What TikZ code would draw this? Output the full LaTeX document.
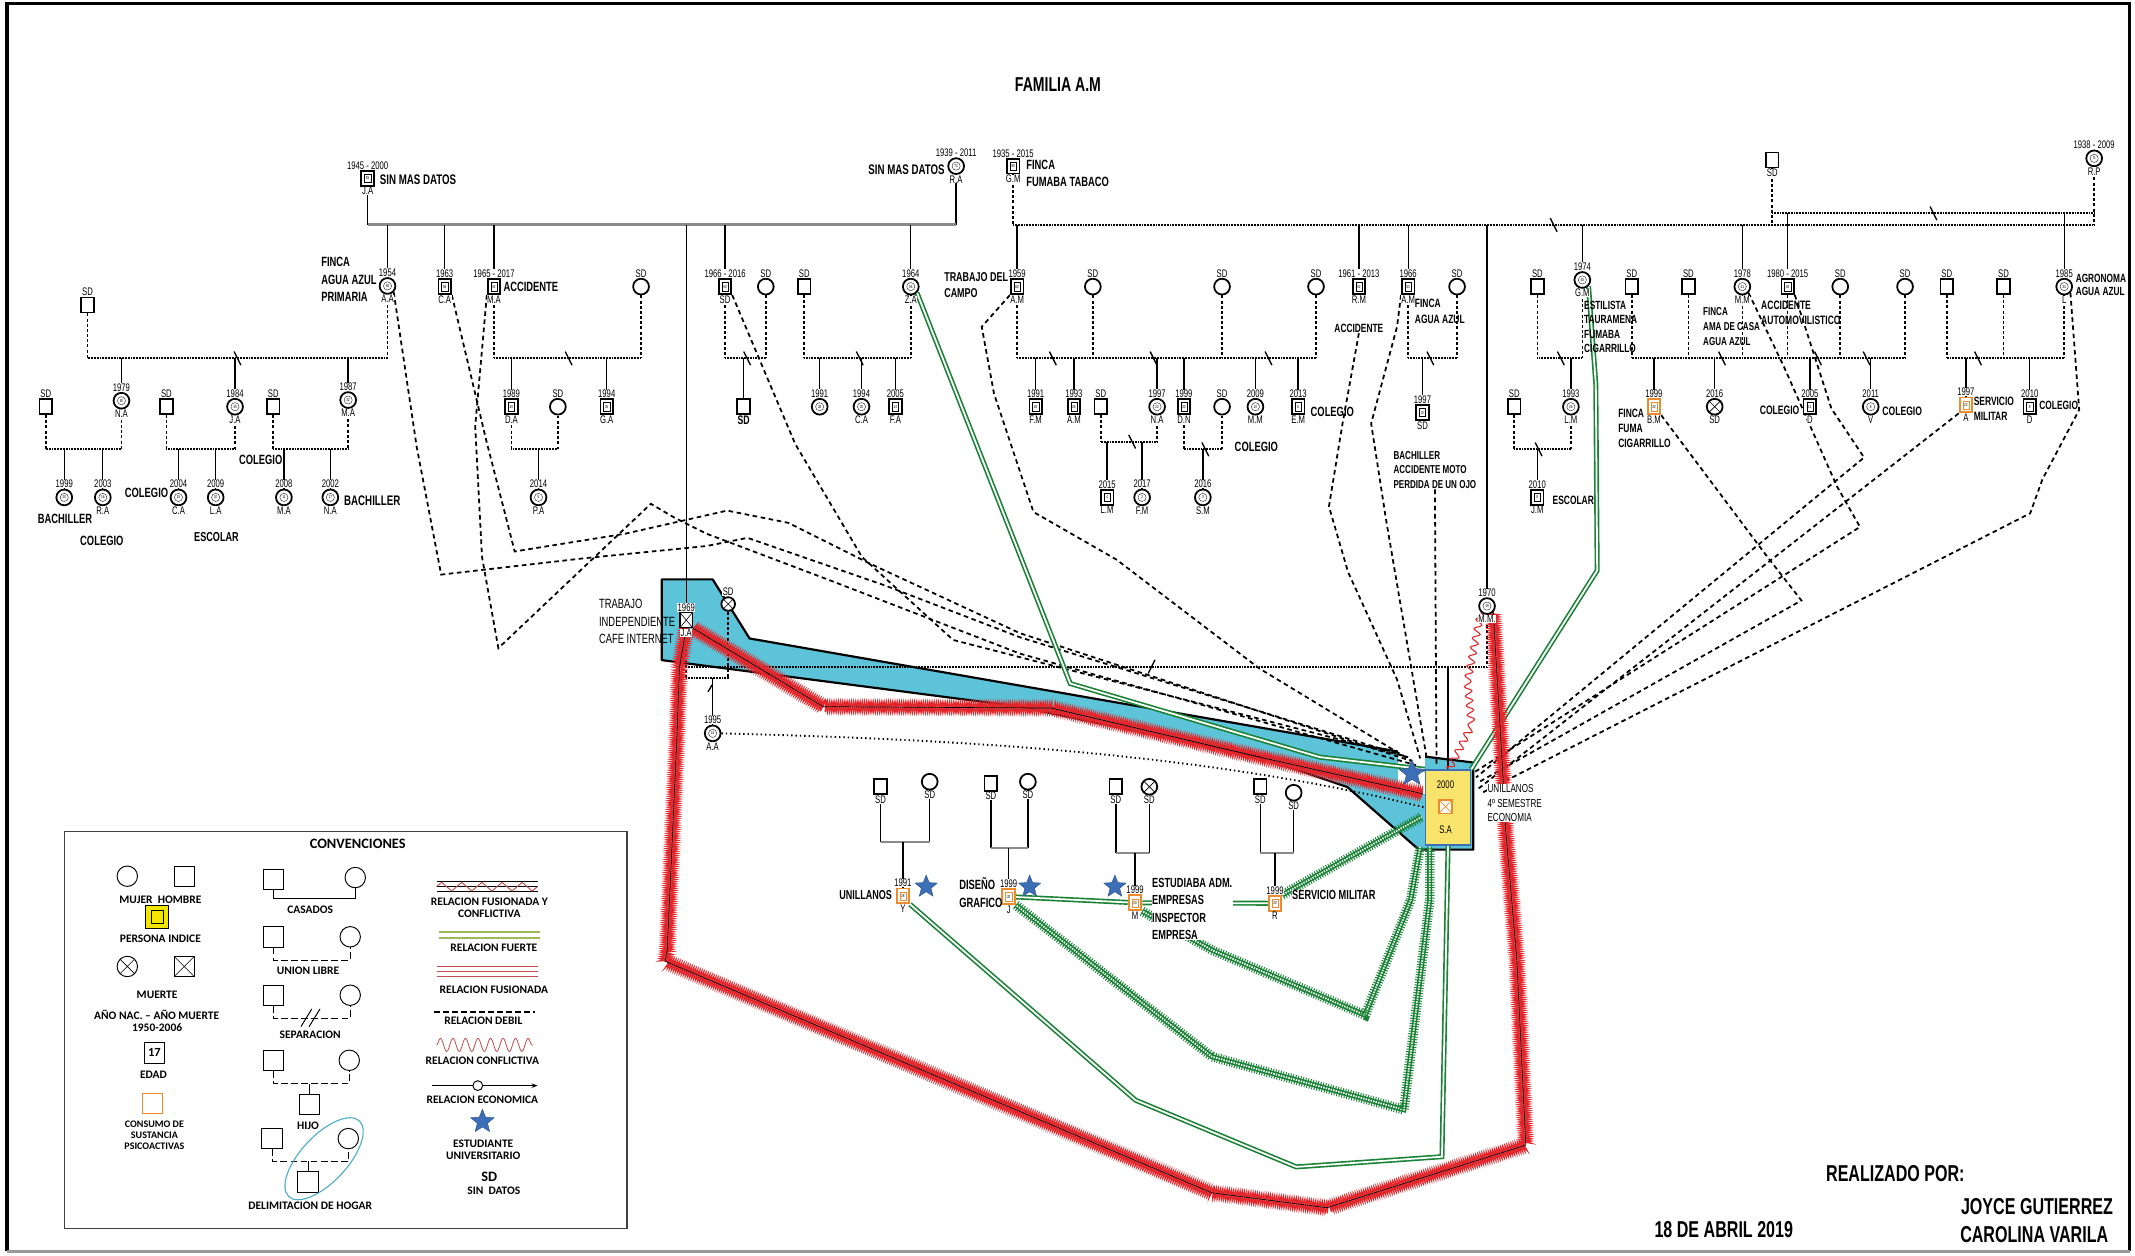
\documentclass[tikz,border=0pt]{standalone}
\usepackage{fontspec}
\setmainfont{Liberation Sans}[FakeStretch=0.7]
\newfontfamily\legf{Carlito}
\usetikzlibrary{shapes.geometric,decorations.pathmorphing,arrows.meta}
\pgfdeclarelayer{bg}
\pgfdeclarelayer{lines}
\pgfsetlayers{bg,lines,main}
\definecolor{grn}{HTML}{1A8236}
\definecolor{rd}{HTML}{E3262B}
\definecolor{hog}{HTML}{5CC3D8}
\definecolor{ylw}{HTML}{F8E46C}
\definecolor{org}{HTML}{EC8A2C}
\definecolor{stb}{HTML}{3C6FB6}
\definecolor{gry}{HTML}{8A8A8A}
\definecolor{lyel}{HTML}{F2E600}
\definecolor{olv}{HTML}{9BBB59}
\definecolor{drd}{HTML}{C0504D}
\definecolor{lteal}{HTML}{4BACC6}
\newcommand\fsz[2]{\fontsize{#1}{#2}\selectfont}
\newcommand\yrf{\fsz{11.5}{12}}
\newcommand\agf{\fsz{4.5}{5}}
\newcommand\lgf{\legf\bfseries\fsz{12}{13.2}}
\tikzset{
 per/.style={draw,line width=0.65mm,fill=white,font=\agf,inner sep=0pt,label distance=3.7mm},
 hb/.style={per,rectangle,minimum width=4.6mm,minimum height=5.5mm},
 hba/.style={hb,path picture={\draw[line width=0.12mm] ([shift={(-1.15mm,-1.5mm)}]path picture bounding box.center) rectangle ([shift={(1.15mm,1.5mm)}]path picture bounding box.center);}},
 hbo/.style={hba,draw=org,line width=0.7mm},
 mj/.style={per,circle,minimum size=5.8mm},
 mja/.style={mj,path picture={\draw[line width=0.12mm] (path picture bounding box.center) circle (1.5mm);}},
 xpp/.style={path picture={\draw[line width=0.22mm] (path picture bounding box.south west) -- (path picture bounding box.north east) (path picture bounding box.north west) -- (path picture bounding box.south east);}},
 xs/.style={hb,xpp},
 xc/.style={mj,xpp},
 every label/.style={font=\yrf,inner sep=0.4pt,fill=white},
 tx/.style={inner sep=0.5pt,align=left},
 kid/.style={line width=0.5mm},
 marr/.style={line width=1.1mm,draw=gry},
 uline/.style={line width=0.75mm,dash pattern=on 0.35mm off 0.22mm},
 stub/.style={line width=0.6mm,dash pattern=on 1.1mm off 0.8mm},
 sepl/.style={line width=0.5mm},
 weak/.style={line width=0.65mm,dash pattern=on 1.7mm off 1.3mm},
 dotrel/.style={line width=0.7mm,dash pattern=on 0.5mm off 1.1mm},
 strong/.style={draw=grn,line width=0.6mm,double=white,double distance=0.65mm},
 gtick/.style={draw=grn,line width=3.6mm,dash pattern=on 0.35mm off 0.6mm},
 rz/.style={draw=rd,line width=0.5mm,decorate,decoration={zigzag,segment length=1.6mm,amplitude=2mm}},
 rzm/.style={draw=rd,line width=0.5mm,decorate,decoration={zigzag,segment length=1.6mm,amplitude=2mm,mirror}},
 conf/.style={draw=rd,line width=0.4mm,decorate,decoration={snake,segment length=3.5mm,amplitude=1.3mm}},
 glin/.style={line width=0.7mm,draw=gry},
 sstar/.style={star,star points=5,star point ratio=2.3,fill=stb,draw=stb!80!black,line width=0.2mm,inner sep=0pt,minimum size=8.5mm},
 lsq/.style={draw,line width=0.35mm,minimum size=7.5mm,inner sep=0pt},
 lci/.style={draw,circle,line width=0.35mm,minimum size=7.5mm,inner sep=0pt},
 lt/.style={font=\lgf,inner sep=0.5pt,align=center},
}
\newcommand\cpl[3]{\draw[uline] (#1 |- #3) -- (#2 |- #3);}
\newcommand\stb[2]{\draw[stub] (#1.south) -- (#1 |- #2);}
\newcommand\kd[2]{\draw[kid] (#1 |- #2) -- (#1.north);}
\newcommand\sepm[2]{\draw[sepl] ({#1-2.5},{#2-5}) -- ({#1+2.5},{#2+5});}
\newcommand\hatchg[1]{\draw[strong] #1; \draw[gtick] #1;}
\newcommand\redb[1]{\draw[rz] #1; \draw[rzm] #1; \draw[line width=0.25mm] #1;}
\begin{document}
\begin{tikzpicture}[x=0.5mm,y=-0.5mm]
\useasboundingbox (0,0) rectangle (1568,922);
% ---------- title
\node[font=\bfseries\fsz{21}{21}] (title) at (777,62) {FAMILIA A.M};
% ---------- generation 1
\node[hba,label=above:1945 - 2000,label=below:J.A] (ja) at (270,131) {55};
\node[tx,anchor=west,font=\bfseries\fsz{14.5}{15}] (t01) at (278.5,132) {SIN MAS DATOS};
\node[mja,label=above:1939 - 2011,label=below:R.A] (ra) at (702.2,122) {72};
\node[tx,anchor=east,font=\bfseries\fsz{14.5}{15}] (t02) at (694.3,124.4) {SIN MAS DATOS};
\node[hba,label=above:1935 - 2015,label=below:G.M] (gm) at (744.1,122) {80};
\node[tx,anchor=west,font=\bfseries\fsz{14}{17.3}] (t03) at (753.3,127.3) {FINCA\\FUMABA TABACO};
\node[hb,label=below:SD] (sdt) at (1301.6,117.5) {};
\node[mja,label=above:1938 - 2009,label=below:R.P] (rp) at (1538,116.3) {71};
% ---------- generation 2
\node[hb,label=above:SD] (sdaa) at (64.3,224) {};
\node[mja,label=above:1954,label=below:A.A] (aa) at (284.6,210) {65};
\node[tx,anchor=west,font=\bfseries\fsz{14}{18.4}] (t04) at (235.5,205.3) {FINCA\\AGUA AZUL\\PRIMARIA};
\node[hba,label=above:1963,label=below:C.A] (ca) at (326.6,210.5) {56};
\node[hba,label=above:1965 - 2017,label=below:M.A] (ma) at (362.8,210.5) {52};
\node[tx,anchor=west,font=\bfseries\fsz{14}{15}] (t05) at (369.3,210.5) {ACCIDENTE};
\node[mj,label=above:SD] (sdma) at (470.8,210.5) {};
\node[hba,label=above:1966 - 2016,label=below:SD] (d66) at (532.5,210.5) {50};
\node[mj,label=above:SD] (sd66) at (562.4,210.5) {};
\node[hb,label=above:SD] (sdza) at (590.7,210.5) {};
\node[mja,label=above:1964,label=below:Z.A] (za) at (668.9,210.5) {55};
\node[hba,label=above:1959,label=below:A.M] (am59) at (747,210.5) {60};
\node[tx,anchor=west,font=\bfseries\fsz{13.4}{17.3}] (t06) at (693,209.3) {TRABAJO DEL\\CAMPO};
\node[mj,label=above:SD] (sdc1) at (802.6,210.5) {};
\node[mj,label=above:SD] (sdc2) at (897.5,210.5) {};
\node[mj,label=above:SD] (sdc3) at (966.5,210.5) {};
\node[hba,label=above:1961 - 2013,label=below:R.M] (rm) at (998,210.5) {52};
\node[tx,font=\bfseries\fsz{12.5}{13}] (t07) at (998,241.1) {ACCIDENTE};
\node[hba,label=above:1966,label=below:A.M] (am66) at (1034.2,210.5) {53};
\node[tx,anchor=west,font=\bfseries\fsz{12.6}{16.6}] (t08) at (1038.7,228.6) {FINCA\\AGUA AZUL};
\node[mj,label=above:SD] (sdc4) at (1070.1,210.5) {};
\node[hb,label=above:SD] (sdg1) at (1129.1,210.5) {};
\node[mja,label=above:1974,label=below:G.M] (gm74) at (1162.1,205.6) {45};
\node[tx,anchor=west,font=\bfseries\fsz{12.4}{15}] (t09) at (1163,240) {ESTILISTA\\TAURAMENA\\FUMABA\\CIGARRILLO};
\node[hb,label=above:SD] (sdg2) at (1198.4,210.5) {};
\node[hb,label=above:SD] (sdg3) at (1240,210.5) {};
\node[mja,label=above:1978,label=below:M.M] (mm78) at (1279.6,210.5) {41};
\node[tx,anchor=west,font=\bfseries\fsz{12}{15.6}] (t10) at (1250.4,239.9) {FINCA\\AMA DE CASA\\AGUA AZUL};
\node[hba,label=above:1980 - 2015] (d80) at (1312.9,210.5) {35};
\node[tx,anchor=west,font=\bfseries\fsz{12.7}{15.6}] (t11) at (1293,229.5) {ACCIDENTE\\AUTOMOVILISTICO};
\node[mj,label=above:SD] (sdg4) at (1351.5,210.5) {};
\node[mj,label=above:SD] (sdg5) at (1399.1,210.5) {};
\node[hb,label=above:SD] (sdg6) at (1429.8,210.5) {};
\node[hb,label=above:SD] (sdg7) at (1471.4,210.5) {};
\node[mja,label=above:1985,label=below:L] (l85) at (1516,210.5) {34};
\node[tx,anchor=west,font=\bfseries\fsz{12.4}{14}] (t12) at (1524,209.3) {AGRONOMA\\AGUA AZUL};
% ---------- generation 3
\node[hb,label=above:SD] (sdna) at (33.6,298.7) {};
\node[mja,label=above:1979,label=below:N.A] (na79) at (89.2,294.3) {40};
\node[hb,label=above:SD] (sdja) at (122.2,298.7) {};
\node[mja,label=above:1984,label=below:J.A] (ja84) at (172.6,298.7) {35};
\node[hb,label=above:SD] (sdm) at (200.7,298.7) {};
\node[mja,label=above:1987,label=below:M.A] (ma87) at (255.7,293.8) {32};
\node[hba,label=above:1989,label=below:D.A] (da) at (375.6,298.7) {30};
\node[mj,label=above:SD] (sdda) at (409.7,298.7) {};
\node[hba,label=above:1994,label=below:G.A] (ga) at (445.6,298.7) {25};
\node[hb,label={[font=\bfseries\fsz{13}{13}]below:SD}] (sd66c) at (546.1,298.7) {};
\node[mja,label=above:1991] (c91) at (602,298.7) {28};
\node[mja,label=above:1994,label=below:C.A] (ca94) at (632.7,298.7) {25};
\node[hba,label=above:2005,label=below:F.A] (fa) at (657.6,298.7) {14};
\node[hba,label=above:1991,label=below:F.M] (fm91) at (760.6,298.7) {28};
\node[hba,label=above:1993,label=below:A.M] (am93) at (788.7,298.7) {26};
\node[hb,label=above:SD] (sdlm) at (808.4,298.7) {};
\node[mja,label=above:1997,label=below:N.A] (na97) at (849.8,298.7) {22};
\node[hba,label=above:1999,label=below:D.N] (dn) at (869.5,298.7) {20};
\node[mj,label=above:SD] (sddn) at (897.5,298.7) {};
\node[mja,label=above:2009,label=below:M.M] (mm09) at (922,298.7) {10};
\node[hba,label=above:2013,label=below:E.M] (em) at (953.4,298.7) {6};
\node[tx,anchor=west,font=\bfseries\fsz{14}{15}] (t13) at (962.1,302.3) {COLEGIO};
\node[tx,font=\bfseries\fsz{14}{15}] (t14) at (922.7,328.5) {COLEGIO};
\node[hba,label=above:1997,label=below:SD] (sd97) at (1044.7,303) {22};
\node[tx,anchor=west,font=\bfseries\fsz{12}{15.3}] (t15) at (1023,345.2) {BACHILLER\\ACCIDENTE MOTO\\PERDIDA DE UN OJO};
\node[hb,label=above:SD] (sdjm) at (1112.1,298.7) {};
\node[mja,label=above:1993,label=below:L.M] (lm93) at (1153.7,298.7) {26};
\node[hbo,label=above:1999,label=below:B.M] (bm) at (1214.7,298.7) {20};
\node[tx,anchor=west,font=\bfseries\fsz{12.6}{15.6}] (t16) at (1188,314.5) {FINCA\\FUMA\\CIGARRILLO};
\node[xc,label=above:2016,label=below:SD] (sd16) at (1259.3,298.7) {};
\node[hba,label=above:2005,label=below:D] (d05) at (1329.2,298.7) {14};
\node[tx,anchor=east,font=\bfseries\fsz{12.8}{14}] (t17) at (1322,301.6) {COLEGIO};
\node[mja,label=above:2011,label=below:V] (v11) at (1373.9,298.7) {8};
\node[tx,anchor=west,font=\bfseries\fsz{12.8}{14}] (t18) at (1382,302.3) {COLEGIO};
\node[hbo,label=above:1997,label=below:A] (a97) at (1443.8,297.4) {22};
\node[tx,anchor=west,font=\bfseries\fsz{12.6}{14.8}] (t19) at (1449.1,300.2) {SERVICIO\\MILITAR};
\node[hba,label=above:2010,label=below:D] (d10) at (1490.7,298.7) {9};
\node[tx,anchor=west,font=\bfseries\fsz{12.5}{14}] (t20) at (1497.3,297.4) {COLEGIO};
% ---------- generation 4
\node[mja,label=above:1999] (k99) at (47.2,365.3) {20};
\node[mja,label=above:2003,label=below:R.A] (ra03) at (75.5,365.3) {16};
\node[mja,label=above:2004,label=below:C.A] (ca04) at (131.1,365.3) {15};
\node[mja,label=above:2009,label=below:L.A] (la09) at (158.4,365.3) {10};
\node[mja,label=above:2008,label=below:M.A] (ma08) at (208.5,365.3) {11};
\node[mja,label=above:2002,label=below:N.A] (na02) at (242.6,365.3) {17};
\node[mja,label=above:2014,label=below:P.A] (pa) at (395.5,365.3) {5};
\node[hba,label=above:2015,label=below:L.M] (lm15) at (813.1,365.3) {4};
\node[mja,label=above:2017,label=below:F.M] (fm17) at (838.8,365.3) {2};
\node[mja,label=above:2016,label=below:S.M] (sm16) at (883.4,365.3) {3};
\node[hba,label=above:2010,label=below:J.M] (jm) at (1129,365.3) {9};
\node[tx,anchor=west,font=\bfseries\fsz{12.6}{14}] (t21) at (1139.8,367.2) {ESCOLAR};
\node[tx,font=\bfseries\fsz{14}{15}] (t22) at (47.7,381.4) {BACHILLER};
\node[tx,font=\bfseries\fsz{14}{15}] (t23) at (74.8,397.1) {COLEGIO};
\node[tx,anchor=east,font=\bfseries\fsz{14}{15}] (t24) at (124,361.8) {COLEGIO};
\node[tx,font=\bfseries\fsz{13.6}{15}] (t25) at (159,394.1) {ESCOLAR};
\node[tx,font=\bfseries\fsz{14}{15}] (t26) at (191.5,337.8) {COLEGIO};
\node[tx,anchor=west,font=\bfseries\fsz{14.5}{15}] (t27) at (252.3,367.7) {BACHILLER};
% ---------- index household
\node[xs,label=above:1969,label=below:J.A] (ja69) at (504,455.4) {};
\node[xc,minimum size=5mm,label=above:SD] (sd69) at (534.8,443.6) {};
\node[tx,anchor=west,font=\fsz{14}{17.9}] (t28) at (439.5,456.4) {TRABAJO\\INDEPENDIENTE\\CAFE INTERNET};
\node[mja,label=above:1995,label=below:A.A] (a95) at (523.4,538.6) {24};
\node[mja,label=above:1970,label=below:M.M.] (mm70) at (1092.1,445.1) {49};
\node[draw=stb,line width=0.5mm,fill=ylw,minimum width=16.5mm,minimum height=27.5mm,inner sep=0pt] (sa) at (1063.5,593) {};
\node[font=\yrf,inner sep=0pt] (sat1) at (1061.6,576.5) {2000};
\node[draw=org,line width=0.6mm,fill=white,minimum size=5mm,inner sep=0pt,xpp] (sax) at (1061.6,592.4) {};
\node[font=\yrf,inner sep=0pt] (sat2) at (1061.6,609.6) {S.A};
\node[sstar,minimum size=10mm] (st0) at (1037,568) {};
\node[tx,anchor=west,font=\fsz{12.1}{15.2},fill=white] (t29) at (1092,590) {UNILLANOS\\4º SEMESTRE\\ECONOMIA};
% ---------- other student families
\node[hb,label=below:SD] (sdy1) at (646.7,577.8) {};
\node[mj,label=below:SD] (sdy2) at (682.8,574.1) {};
\node[hbo,label=above:1991,label=below:Y] (yy) at (663.1,658) {28};
\node[sstar] (st1) at (680.2,651.2) {};
\node[tx,anchor=east,font=\bfseries\fsz{13.5}{14}] (t30) at (655.6,657.3) {UNILLANOS};
\node[hb,label=below:SD] (sdj1) at (727.7,575.3) {};
\node[mj,label=below:SD] (sdj2) at (754.9,574.1) {};
\node[hbo,label=above:1999,label=below:J] (jj) at (740.8,658.5) {20};
\node[sstar] (st2) at (756.2,651.2) {};
\node[tx,anchor=west,font=\bfseries\fsz{14}{19}] (t31) at (704,655.5) {DISEÑO\\GRAFICO};
\node[hb,label=below:SD] (sdm1) at (819.5,577.8) {};
\node[xc,label=below:SD] (sdm2) at (844.1,577.8) {};
\node[hbo,label=above:1999,label=below:M] (mm) at (833.6,663) {20};
\node[sstar] (st3) at (818.8,651.2) {};
\node[tx,anchor=west,font=\bfseries\fsz{13.8}{18},fill=white] (t32) at (845.7,667.6) {ESTUDIABA ADM.\\EMPRESAS\\INSPECTOR\\EMPRESA};
\node[hb,label=below:SD] (sdr1) at (925.6,577.8) {};
\node[mj,label=below:SD] (sdr2) at (950.1,582.2) {};
\node[hbo,label=above:1999,label=below:R] (rr) at (936.4,663.4) {20};
\node[tx,anchor=west,font=\bfseries\fsz{13.8}{14},fill=white] (t33) at (948.5,657.3) {SERVICIO MILITAR};
% ---------- footer
\node[font=\bfseries\fsz{24}{24}] (f1) at (1392,862) {REALIZADO POR:};
\node[font=\bfseries\fsz{24}{24}] (f2) at (1496,886) {JOYCE GUTIERREZ};
\node[font=\bfseries\fsz{24}{24}] (f3) at (1494,907) {CAROLINA VARILA};
\node[font=\bfseries\fsz{24}{24}] (f4) at (1266,903) {18 DE ABRIL 2019};
% ---------- levels
\coordinate (g1) at (0,165.2);
\coordinate (g1b) at (0,156.7);
\coordinate (g2) at (0,263.2);
\coordinate (g3) at (0,330);
\coordinate (g3b) at (0,324.4);
\coordinate (hh) at (0,489.6);
\coordinate (hs) at (0,498.2);
\coordinate (yl) at (0,618.1);
\coordinate (jl) at (0,623);
\coordinate (ml) at (0,626.7);
\coordinate (e1) at (1034,556);
\coordinate (e2) at (1037,559);
\coordinate (e3) at (1040,562);
\coordinate (e4) at (1043,557);
\coordinate (e5) at (1048,558);
\coordinate (e6) at (1055,561);
\coordinate (r1) at (1083,567);
\coordinate (r2) at (1084,571);
\coordinate (r3) at (1085,575);
\coordinate (r4) at (1086,579);
\coordinate (r5) at (1087,583);
% ---------- household background
\begin{pgfonlayer}{bg}
\draw[fill=hog,line width=0.8mm,line join=round] (486,425.5) -- (523.4,425.5) -- (550.5,468.9) -- (1027,552) -- (1047,555.7) -- (1082,560) -- (1082,624) -- (1042,624) -- (989.5,578) -- (925,556) -- (749,519) -- (486,484.8) -- cycle;
\fill[white] (1027,551) rectangle (1046.5,583);
\end{pgfonlayer}
% ---------- lines
\begin{pgfonlayer}{lines}
% gen 1
\draw[kid] (ja.south) -- (ja |- g1);
\draw[kid] (ra.south) -- (ra |- g1);
\draw[marr] (ja |- g1) -- (ra |- g1);
\stb{gm}{g1} \stb{rp}{g1} \stb{sdt}{g1}
\cpl{gm}{rp}{g1}
\cpl{sdt}{rp}{g1b}
\sepm{1141}{165.2} \sepm{1420}{156.7}
\kd{aa}{g1} \kd{ca}{g1} \kd{ma}{g1} \kd{ja69}{g1} \kd{d66}{g1} \kd{za}{g1}
\kd{am59}{g1} \kd{rm}{g1} \kd{am66}{g1} \kd{gm74}{g1} \kd{mm78}{g1} \kd{mm70}{g1}
\kd{d80}{g1b} \kd{l85}{g1b}
% gen 2 couples
\stb{sdaa}{g2} \stb{aa}{g2} \cpl{sdaa}{aa}{g2} \sepm{174.4}{263.2}
\kd{na79}{g2} \kd{ja84}{g2} \kd{ma87}{g2}
\stb{ma}{g2} \stb{sdma}{g2} \cpl{ma}{sdma}{g2} \sepm{417.6}{263.2}
\kd{da}{g2} \kd{ga}{g2}
\stb{d66}{g2} \stb{sd66}{g2} \cpl{d66}{sd66}{g2} \sepm{548.7}{263.2}
\kd{sd66c}{g2}
\stb{sdza}{g2} \stb{za}{g2} \cpl{sdza}{za}{g2} \sepm{631.4}{263.2}
\kd{c91}{g2} \kd{ca94}{g2} \kd{fa}{g2}
\stb{am59}{g2} \stb{sdc1}{g2} \stb{sdc2}{g2} \stb{sdc3}{g2} \cpl{am59}{sdc3}{g2}
\sepm{773.2}{263.2} \sepm{847.2}{263.2} \sepm{931.6}{263.2}
\kd{fm91}{g2} \kd{am93}{g2} \kd{na97}{g2} \kd{dn}{g2} \kd{mm09}{g2} \kd{em}{g2}
\stb{am66}{g2} \stb{sdc4}{g2} \cpl{am66}{sdc4}{g2} \sepm{1050.5}{263.2}
\kd{sd97}{g2}
\stb{sdg1}{g2} \stb{gm74}{g2} \cpl{sdg1}{gm74}{g2} \sepm{1146.3}{263.2}
\kd{lm93}{g2}
\stb{sdg2}{g2} \stb{sdg3}{g2} \stb{mm78}{g2} \stb{d80}{g2} \stb{sdg4}{g2} \stb{sdg5}{g2}
\cpl{sdg2}{sdg5}{g2} \sepm{1264.7}{263.2} \sepm{1335.2}{263.2} \sepm{1370.9}{263.2}
\kd{bm}{g2} \kd{sd16}{g2} \kd{d05}{g2} \kd{v11}{g2}
\stb{sdg6}{g2} \stb{sdg7}{g2} \stb{l85}{g2} \cpl{sdg6}{l85}{g2} \sepm{1452.7}{263.2}
\kd{a97}{g2} \kd{d10}{g2}
% gen 3 couples
\stb{sdna}{g3} \stb{na79}{g3} \cpl{sdna}{na79}{g3} \kd{k99}{g3} \kd{ra03}{g3}
\stb{sdja}{g3} \stb{ja84}{g3} \cpl{sdja}{ja84}{g3} \kd{ca04}{g3} \kd{la09}{g3}
\stb{sdm}{g3} \stb{ma87}{g3} \cpl{sdm}{ma87}{g3} \kd{ma08}{g3} \kd{na02}{g3}
\stb{da}{g3} \stb{sdda}{g3} \cpl{da}{sdda}{g3} \kd{pa}{g3}
\stb{sdlm}{g3b} \stb{na97}{g3b} \cpl{sdlm}{na97}{g3b} \sepm{831.5}{324.4} \kd{lm15}{g3b} \kd{fm17}{g3b}
\stb{dn}{g3} \stb{sddn}{g3} \cpl{dn}{sddn}{g3} \sepm{885.2}{330} \kd{sm16}{g3}
\stb{sdjm}{g3} \stb{lm93}{g3} \cpl{sdjm}{lm93}{g3} \sepm{1130}{330} \kd{jm}{g3}
% index household lines
\stb{ja69}{hs} \stb{mm70}{hh} \cpl{ja69}{mm70}{hh}
\draw[sepl] (843.3,494.6) -- (848.3,484.6);
\kd{sa}{hh}
\stb{sd69}{hs} \cpl{ja69}{sd69}{hs}
\kd{a95}{hs}
\draw[sepl] (520,508) -- (523,503);
% other families
\draw[kid] (sdy1.south) -- (sdy1 |- yl); \draw[kid] (sdy2.south) -- (sdy2 |- yl);
\draw[glin] (sdy1 |- yl) -- (sdy2 |- yl); \kd{yy}{yl}
\draw[kid] (sdj1.south) -- (sdj1 |- jl); \draw[kid] (sdj2.south) -- (sdj2 |- jl);
\draw[glin] (sdj1 |- jl) -- (sdj2 |- jl); \kd{jj}{jl}
\draw[kid] (sdm1.south) -- (sdm1 |- ml); \draw[kid] (sdm2.south) -- (sdm2 |- ml);
\draw[glin] (sdm1 |- ml) -- (sdm2 |- ml); \kd{mm}{ml}
\draw[kid] (sdr1.south) -- (sdr1 |- ml); \draw[kid] (sdr2.south) -- (sdr2 |- ml);
\draw[glin] (sdr1 |- ml) -- (sdr2 |- ml); \kd{rr}{ml}
% weak relations to the index person
\draw[weak] (d66.south east) -- (584,326) -- (633,409) -- (700,470) -- (e1);
\draw[weak] (am59.south west) -- (721,240) -- (730,289) -- (759,376) -- (820,411) -- (925,491) -- (e2);
\draw[weak] (t07.south) -- (986,311) -- (976,372) -- (990,420) -- (1026,499) -- (e4);
\draw[weak] (am66.south west) -- (1026,240) -- (1007,311) -- (1018,382) -- (e5);
\draw[weak] (t15.south) -- (e6);
\draw[weak] (aa.south east) -- (306,328) -- (324,422) -- (429,410) -- (519,401) -- (549,395) -- (650,430) -- (749,468) -- (e1);
\draw[weak] (ca.south east) -- (357,323) -- (378,405) -- (459,392) -- (534,375) -- (579,384) -- (639,414) -- (749,465) -- (e2);
\draw[weak] (ma.south west) -- (349,313) -- (354,409) -- (366,476) -- (478,370) -- (495,380) -- (519,392) -- (609,426) -- (749,480) -- (e3);
\draw[weak] (mm78.south east) -- (1310,269) -- (1349,357) -- (1366,387) -- (r1);
\draw[weak] (d80.south east) -- (1345,300) -- (1369,336) -- (r2);
\draw[weak] (bm.south east) -- (1298,409) -- (1323,441) -- (r3);
\draw[weak] (a97.south west) -- (r4);
\draw[weak] (l85.south east) -- (1527,301) -- (1500,352) -- (1491,377) -- (r5);
\draw[dotrel] (a95.east) .. controls (700,543) and (880,552) .. (sa.west);
% strong / fused relations
\draw[strong] (za.south east) -- (786,502) -- (969,556) -- (sa.north west);
\draw[strong] (gm74.south east) -- (1172,282) -- (1173,419) -- (sa.north east);
\draw[strong] (yy.south east) -- (834,808) -- (952,857) -- (1059,849.5) -- (sa.south);
\hatchg{(jj.south east) -- (890,776) -- (1031,815) -- (1050,661) -- (1050,622)}
\hatchg{(mm.south east) -- (890,697.7) -- (1002.6,745.5) -- (1036,661) -- (1043,622)}
\hatchg{(rr.north east) -- (1044,600)}
\draw[strong] (jj) -- (mm);
\draw[strong] (mm) -- (rr);
% conflictive relations
\redb{(ja69.south east) -- (604.7,519) -- (772,520) -- (925,556) -- (1045,583)}
\redb{(ja69.south) -- (499,490) -- (497,545) -- (490,698) -- (488.5,706) -- (890,876) -- (974.5,887) -- (1120.6,841) -- (1114,705) -- (1106,612) -- (1104,573) -- (mm70.south east)}
\draw[conf] (mm70.south west) -- (1078,499) -- (1081,531) -- (sa.north);
\end{pgfonlayer}
% ---------- legend
\draw[line width=0.4mm,draw=black!75,fill=white] (47.4,610.8) rectangle (460.5,902.1);
\node[font=\legf\bfseries\fsz{15}{16}] (lgt1) at (262.7,619.8) {CONVENCIONES};
\node[lci] (lg1) at (93.5,643.5) {};
\node[lsq] (lg2) at (135.3,643.5) {};
\node[lt] (lgt2) at (117.8,660.6) {MUJER\ \ HOMBRE};
\node[lsq,fill=lyel,minimum size=8.5mm] (lg3) at (115.4,673.5) {};
\node[lsq,fill=lyel,minimum size=4.5mm] (lg3b) at (115.4,673.5) {};
\node[lt] (lgt3) at (117.8,689.5) {PERSONA INDICE};
\node[lci,xpp] (lg4) at (93.5,709.8) {};
\node[lsq,xpp] (lg5) at (135.3,709.8) {};
\node[lt] (lgt4) at (115.4,730.3) {MUERTE};
\node[lt] (lgt5) at (115.1,745.2) {AÑO NAC. – AÑO MUERTE};
\node[lt] (lgt6) at (115.4,755) {1950-2006};
\node[lsq,font=\legf\bfseries\fsz{13}{13}] (lg6) at (113.4,773.3) {17};
\node[lt] (lgt7) at (112.7,789.2) {EDAD};
\node[lsq,draw=org] (lg7) at (112.1,810.5) {};
\node[lt,font=\legf\bfseries\fsz{10.5}{11.4}] (lgt8) at (113.4,833.7) {CONSUMO DE\\SUSTANCIA\\PSICOACTIVAS};
% middle column
\node[lsq] (lm1) at (200.9,645.7) {};
\node[lci] (lf1) at (260.9,644.5) {};
\coordinate (lc1) at (0,660);
\draw[line width=0.35mm] (lm1.south) -- (lm1 |- lc1) -- (lf1 |- lc1) -- (lf1.south);
\node[lt] (lgt9) at (227.8,668.3) {CASADOS};
\node[lsq] (lm2) at (200.9,688) {};
\node[lci] (lf2) at (257.2,688) {};
\coordinate (lc2) at (0,705.2);
\draw[line width=0.35mm,dash pattern=on 2.5mm off 1.2mm] (lm2.south) -- (lm2 |- lc2) -- (lf2 |- lc2) -- (lf2.south);
\node[lt] (lgt10) at (226.2,712.8) {UNION LIBRE};
\node[lsq] (lm3) at (200.9,730.9) {};
\node[lci] (lf3) at (257.2,730.9) {};
\coordinate (lc3) at (0,748);
\draw[line width=0.35mm,dash pattern=on 2.5mm off 1.2mm] (lm3.south) -- (lm3 |- lc3) -- (lf3 |- lc3) -- (lf3.south);
\draw[line width=0.35mm] (221,754) -- (229,741) (227,754) -- (235,741);
\node[lt] (lgt11) at (227.8,759.6) {SEPARACION};
\node[lsq] (lm4) at (200.9,778.7) {};
\node[lci] (lf4) at (256.5,778.7) {};
\coordinate (lc4) at (0,795.8);
\draw[line width=0.35mm,dash pattern=on 2.5mm off 1.2mm] (lm4.south) -- (lm4 |- lc4) -- (lf4 |- lc4) -- (lf4.south);
\node[lsq] (lk4) at (227.2,811) {};
\draw[line width=0.35mm] (lk4 |- lc4) -- (lk4.north);
\node[lt] (lgt12) at (226.2,826.9) {HIJO};
\node[lsq] (lm5) at (199.9,836.2) {};
\node[lci] (lf5) at (255.8,836.2) {};
\coordinate (lc5) at (0,852.8);
\draw[line width=0.35mm,dash pattern=on 2.5mm off 1.2mm] (lm5.south) -- (lm5 |- lc5) -- (lf5 |- lc5) -- (lf5.south);
\node[lsq] (lk5) at (226.2,868) {};
\draw[line width=0.35mm] (lk5 |- lc5) -- (lk5.north);
\draw[lteal,line width=0.4mm,rotate around={47:(238,851)}] (238,851) ellipse (38 and 17);
\node[lt] (lgt13) at (227.8,885.7) {DELIMITACION DE HOGAR};
% right column
\draw[line width=0.35mm] (320.6,647.5) -- (394.8,647.5) (320.6,651.2) -- (394.8,651.2) (320.6,654.8) -- (394.8,654.8);
\draw[drd,line width=0.35mm,decorate,decoration={zigzag,segment length=7.4mm,amplitude=1.6mm}] (320.6,651.2) -- (394.8,651.2);
\node[lt] (lgt14) at (359.4,666.8) {RELACION FUSIONADA Y\\CONFLICTIVA};
\draw[olv,line width=0.8mm] (322.3,684.7) -- (396.5,684.7) (322.3,689.1) -- (396.5,689.1);
\node[lt] (lgt15) at (362.7,696) {RELACION FUERTE};
\draw[drd,line width=0.5mm] (320.6,709.9) -- (394.8,709.9) (320.6,713.6) -- (394.8,713.6) (320.6,717.2) -- (394.8,717.2);
\node[lt] (lgt16) at (362.7,727) {RELACION FUSIONADA};
\draw[line width=0.6mm,dash pattern=on 2.2mm off 1.1mm] (318.9,743.4) -- (393.1,743.4);
\node[lt] (lgt17) at (355,749.6) {RELACION DEBIL};
\draw[drd,line width=0.3mm,decorate,decoration={snake,segment length=4.6mm,amplitude=2.4mm}] (320.6,767.4) -- (391.5,767.4);
\node[lt] (lgt18) at (354.3,778.9) {RELACION CONFLICTIVA};
\draw[line width=0.4mm,-{Stealth[length=2.2mm]}] (317.2,797.3) -- (394.8,797.3);
\node[draw,circle,fill=white,line width=0.35mm,minimum size=3.6mm,inner sep=0pt] (lgec) at (350.9,797.3) {};
\node[lt] (lgt19) at (354.3,807.8) {RELACION ECONOMICA};
\node[sstar,minimum size=9mm] (lgst) at (354.3,823.7) {};
\node[lt,font=\legf\bfseries\fsz{12}{13.2}] (lgt20) at (354.9,844.3) {ESTUDIANTE\\UNIVERSITARIO};
\node[lt,font=\legf\bfseries\fsz{15}{15}] (lgt21) at (359.4,864.6) {SD};
\node[lt] (lgt22) at (362.7,874.4) {SIN\ \ DATOS};
% ---------- frame
\draw[line width=1.3mm] (5,919) -- (5,2.5) -- (1564,2.5) -- (1564,919);
\draw[line width=1mm,draw=black!40] (5,919) -- (1564,919);
\end{tikzpicture}
\end{document}
